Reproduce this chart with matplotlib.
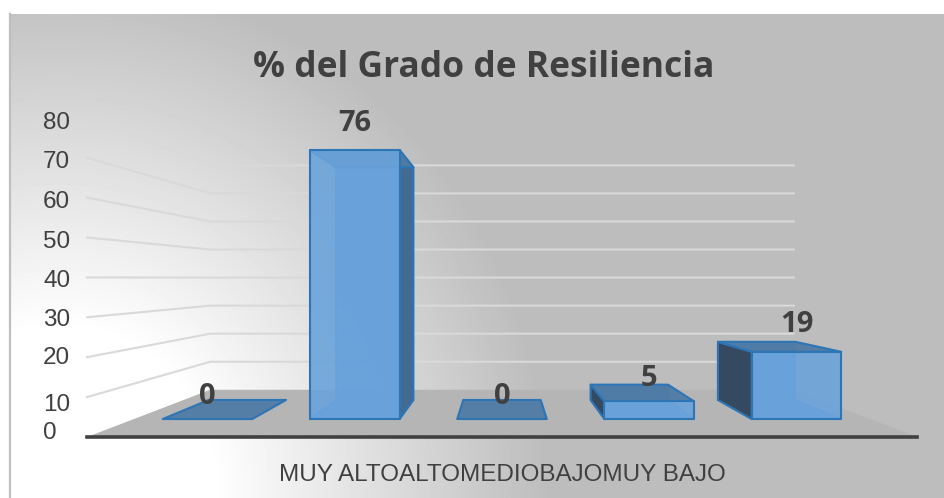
import numpy as np
import matplotlib
matplotlib.use("Agg")
import matplotlib.pyplot as plt
from matplotlib.colors import to_rgba
from matplotlib.patches import Polygon

# ----------------------------------------------------------------------
# DATA
# ----------------------------------------------------------------------
TITLE = "% del Grado de Resiliencia"
categories = ["MUY ALTO", "ALTO", "MEDIO", "BAJO", "MUY BAJO"]
values = [0, 76, 0, 5, 19]
y_ticks = [0, 10, 20, 30, 40, 50, 60, 70, 80]

# ----------------------------------------------------------------------
# PERSPECTIVE SETUP (pixel space of the 944x498 figure)
# ----------------------------------------------------------------------
VX, VY = 502, 278      # vanishing point
FLOOR_Y = 159          # floor drop below vanishing point at the front plane
UNIT = 3.99            # px per value unit at the front plane
SLOT = 166             # world width of a category
BAR_W = 101
S_FRONT = 1.0
S_BAR_F = 0.887
S_BAR_B = 0.767
S_BACK = 0.703

TICK_NUDGE = {0: -4, 10: 8, 20: 1, 30: 3, 40: 4, 50: 4, 60: 4, 70: 4, 80: 5}
EDGE = "#2E75B6"
INNER_EDGE = "#4F94D4"


def proj(x, z, s):
    return VX + x * s, VY + (FLOOR_Y - z * UNIT) * s


def face(ax, pts, color, alpha=1.0, zorder=3, edge=EDGE, lw=1.5):
    ax.add_patch(Polygon(pts, closed=True, facecolor=to_rgba(color, alpha),
                         edgecolor=edge, linewidth=lw, joinstyle="round", zorder=zorder))


fig = plt.figure(figsize=(9.44, 4.98), dpi=100)
ax = fig.add_axes([0, 0, 1, 1])

# background: radial fade from white (lower left) to grey
yy, xx = np.mgrid[14:498, 9:944]
r = np.sqrt(((xx - 60) / 1.05) ** 2 + ((yy - 490) * 0.9) ** 2)
t = np.clip((r - 145) / 320, 0, 1)
grey = 1.0 - t * (1.0 - 0.74)
ax.imshow(grey, cmap="gray", vmin=0, vmax=1, extent=(9, 944, 498, 14), aspect="auto",
          interpolation="bilinear", zorder=0)
ax.set_xlim(0, 944)
ax.set_ylim(498, 0)
ax.axis("off")
ax.plot([10, 10], [498, 14], color="#BFBFBF", lw=1.6, zorder=1)

# floor and baseline
half = SLOT * 2.5
floor = [proj(-half, 0, S_FRONT), proj(half, 0, S_FRONT), proj(half, 0, S_BACK), proj(-half, 0, S_BACK)]
ax.add_patch(Polygon(floor, closed=True, facecolor="#B5B5B5", edgecolor="none", zorder=1.5))
ax.plot([floor[0][0], floor[1][0]], [floor[0][1], floor[1][1]], color="#404040", lw=2.6, zorder=2)

# gridlines along left wall and back wall
for v in y_ticks[1:]:
    p0 = proj(-half, v, S_FRONT)
    p1 = proj(-half, v, S_BACK)
    p2 = proj(half, v, S_BACK)
    ax.plot([p0[0], p1[0], p2[0]], [p0[1], p1[1], p2[1]], color="#D9D9D9", lw=1.5, zorder=1.6)

# y tick labels
for v in y_ticks:
    lx, ly = proj(-half, v, S_FRONT)
    ax.text(43, ly + TICK_NUDGE[v], str(v), ha="left", va="center", fontsize=17.5, color="#404040",
            family="Liberation Sans", zorder=5)

# bars
for i, val in enumerate(values):
    cx = (i - 2) * SLOT
    l, rr = cx - BAR_W / 2, cx + BAR_W / 2
    fbl, fbr = proj(l, 0, S_BAR_F), proj(rr, 0, S_BAR_F)
    ftl, ftr = proj(l, val, S_BAR_F), proj(rr, val, S_BAR_F)
    bbl, bbr = proj(l, 0, S_BAR_B), proj(rr, 0, S_BAR_B)
    btl, btr = proj(l, val, S_BAR_B), proj(rr, val, S_BAR_B)

    # back, bottom, side faces, then top and front
    if val > 0:
        face(ax, [bbl, bbr, btr, btl], "#5B9BD5", 0.95, 3, edge=INNER_EDGE, lw=1.2)
        face(ax, [fbl, fbr, bbr, bbl], "#5B9BD5", 0.95, 3.1, edge=INNER_EDGE, lw=1.2)
        if cx > 0:
            face(ax, [fbl, bbl, btl, ftl], "#34495F", 0.98, 3.2)
        elif cx < 0:
            face(ax, [fbr, bbr, btr, ftr], "#42688F", 0.95, 3.2)
    face(ax, [ftl, ftr, btr, btl], "#4F7BA5", 0.95, 3.3)
    if val > 0:
        face(ax, [fbl, fbr, ftr, ftl], "#6BA3DB", 0.9, 3.4)

    # value label above the front top edge, centred on the front face
    tx, ty = proj(cx, val, S_BAR_F)
    ax.text(tx, ty - (23 if val < 10 else 27), str(val), ha="center", va="center",
            fontsize=21, fontweight="bold", color="#404040", family="Open Sans", zorder=6)

ax.text(484, 68, TITLE, ha="center", va="center", fontsize=25.5, fontweight="bold",
        color="#404040", family="Open Sans", zorder=6)
ax.text(502, 474.5, "".join(categories), ha="center", va="center", fontsize=17.5,
        color="#404040", family="Liberation Sans", zorder=6)

fig.savefig("out.png", dpi=100)
